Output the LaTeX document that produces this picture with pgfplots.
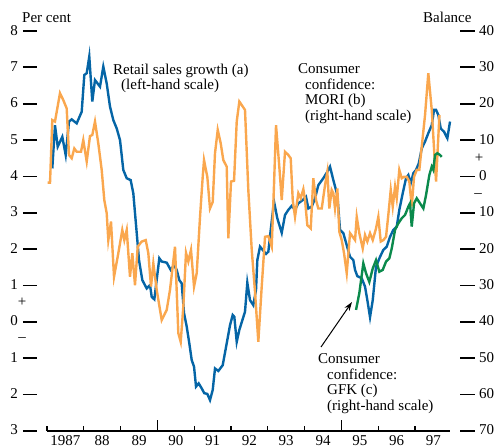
\documentclass[border=0pt]{standalone}
\usepackage{fontspec}
\setmainfont{Liberation Serif}
\usepackage{pgfplots}
\pgfplotsset{compat=1.18}
\usetikzlibrary{arrows.meta}
\definecolor{retail}{HTML}{0565A6}
\definecolor{mori}{HTML}{FAA74E}
\definecolor{gfk}{HTML}{0B8A4C}
% tick labels: number with a detached dash
\newcommand{\ld}[1]{#1\hspace{5pt}\rule[3.2pt]{14pt}{1.7pt}}
\newcommand{\rd}[1]{\rule[3.2pt]{15pt}{1.7pt}\hspace{4pt}#1}

\begin{document}
\begin{tikzpicture}[font=\fontsize{15}{16}\selectfont]
\path[use as bounding box] (0,0) rectangle (499pt,448pt);

% left-hand scale: retail sales growth
\begin{axis}[
  at={(47pt,17pt)}, anchor=south west,
  scale only axis, width=403pt, height=400pt,
  xmin=1987, xmax=1997.95, ymin=-3, ymax=8,
  axis x line*=bottom, axis y line*=left,
  x axis line style={-, line width=1.7pt},
  y axis line style={draw=none},
  ytick={-3,-2,...,8},
  yticklabels={\ld{3},\ld{2},\ld{1},\ld{0},\ld{1},\ld{2},\ld{3},\ld{4},\ld{5},\ld{6},\ld{7},\ld{8}},
  yticklabel style={anchor=base east, inner sep=0pt, xshift=-10pt, yshift=-4pt},
  xtick={1987.5,1988.5,...,1997.5},
  xticklabels={1987,88,89,90,91,92,93,94,95,96,97},
  xticklabel style={anchor=base, inner sep=0pt, yshift=-14.5pt},
  minor xtick={1987,1988,1989,1991,1992,1993,1994,1996,1997},
  extra x ticks={1990,1995}, extra x tick labels={},
  extra x tick style={major tick length=11pt},
  major tick length=0pt, minor tick length=5pt,
  tick align=inside,
  x tick style={line width=1.3pt, black},
  y tick style={draw=none},
  clip=false,
]
\addplot[retail, line width=2.4pt] table {
1987.144 4.22
1987.217 5.41
1987.291 4.82
1987.416 5.09
1987.508 4.59
1987.598 5.51
1987.671 5.57
1987.807 5.46
1987.943 5.78
1988.014 6.79
1988.079 6.84
1988.149 7.30
1988.231 6.06
1988.304 6.65
1988.440 6.47
1988.530 7.02
1988.622 6.56
1988.712 5.92
1988.802 5.55
1988.894 5.32
1988.984 5.00
1989.073 4.18
1989.166 3.95
1989.274 3.90
1989.345 3.54
1989.438 2.44
1989.500 1.70
1989.590 1.15
1989.709 0.92
1989.799 1.01
1989.845 0.69
1989.916 0.62
1990.052 1.75
1990.117 1.66
1990.253 1.63
1990.361 1.43
1990.451 1.56
1990.524 1.43
1990.595 1.15
1990.660 1.06
1990.723 0.24
1990.796 -0.13
1990.867 -0.59
1990.932 -1.05
1990.995 -1.23
1991.049 -1.78
1991.122 -1.69
1991.204 -1.83
1991.274 -1.96
1991.356 -1.98
1991.429 -2.15
1991.503 -1.87
1991.565 -1.28
1991.655 -1.35
1991.774 -1.19
1991.883 -0.59
1991.973 -0.09
1992.046 0.19
1992.090 0.14
1992.155 -0.55
1992.226 -0.22
1992.380 0.28
1992.443 1.08
1992.516 0.60
1992.606 0.46
1992.679 0.88
1992.715 1.70
1992.788 2.07
1992.861 1.98
1992.951 1.87
1993.014 1.93
1993.079 2.53
1993.168 3.31
1993.258 2.85
1993.378 2.45
1993.467 2.94
1993.557 3.08
1993.649 3.19
1993.739 3.08
1993.829 3.26
1993.948 3.35
1994.038 3.44
1994.101 3.12
1994.193 3.17
1994.283 3.40
1994.372 3.76
1994.508 3.95
1994.617 4.13
1994.690 4.27
1994.780 3.90
1994.889 3.49
1994.962 2.53
1995.052 2.44
1995.144 2.11
1995.234 1.79
1995.323 1.70
1995.370 1.43
1995.432 1.26
1995.552 1.20
1995.641 0.97
1995.704 0.60
1995.777 0.13
1995.851 0.60
1995.940 1.52
1996.049 1.79
1996.139 1.98
1996.231 2.07
1996.321 2.34
1996.410 2.53
1996.503 2.62
1996.573 3.08
1996.666 3.54
1996.755 3.95
1996.818 4.04
1996.883 3.81
1996.954 4.09
1997.027 4.18
1997.101 4.36
1997.182 4.77
1997.272 4.96
1997.361 5.19
1997.454 5.41
1997.516 5.83
1997.571 5.83
1997.633 5.69
1997.698 5.32
1997.788 5.23
1997.878 5.05
1997.951 5.51
};
\end{axis}

% right-hand scale: consumer confidence balances
\begin{axis}[
  at={(47pt,17pt)}, anchor=south west,
  scale only axis, width=403pt, height=400pt,
  xmin=1987, xmax=1997.95, ymin=-70, ymax=40,
  axis x line=none, axis y line*=right,
  y axis line style={draw=none},
  ytick={-70,-60,...,40},
  yticklabels={\rd{70},\rd{60},\rd{50},\rd{40},\rd{30},\rd{20},\rd{10},\rd{0},\rd{10},\rd{20},\rd{30},\rd{40}},
  yticklabel style={anchor=base west, inner sep=0pt, xshift=10pt, yshift=-4pt},
  y tick style={draw=none},
  clip=false,
]
\addplot[mori, line width=2.4pt] table {
1987.019 -1.7
1987.082 -1.7
1987.144 15.5
1987.217 15.1
1987.353 22.9
1987.443 21.0
1987.535 18.7
1987.598 5.9
1987.671 5.0
1987.742 7.7
1987.807 6.8
1987.924 6.8
1987.986 10.0
1988.079 4.1
1988.168 11.1
1988.231 11.4
1988.304 15.1
1988.394 9.1
1988.486 1.8
1988.557 -6.5
1988.622 -10.1
1988.666 -17.5
1988.739 -12.4
1988.821 -27.6
1988.938 -21.1
1989.046 -14.7
1989.101 -17.5
1989.166 -14.7
1989.255 -27.6
1989.318 -21.1
1989.391 -29.9
1989.465 -19.3
1989.573 -17.9
1989.682 -17.5
1989.753 -21.1
1989.826 -30.3
1989.889 -23.9
1989.981 -31.2
1990.117 -39.5
1990.253 -36.7
1990.342 -31.2
1990.478 -19.3
1990.568 -43.1
1990.633 -45.5
1990.704 -35.8
1990.777 -21.0
1990.840 -23.4
1990.913 -20.2
1990.995 -30.3
1991.068 -26.6
1991.158 -11.1
1991.231 -0.1
1991.266 4.5
1991.356 -0.1
1991.429 -8.8
1991.503 -7.0
1991.565 6.4
1991.639 12.8
1991.720 9.1
1991.791 4.5
1991.883 2.7
1991.927 -17.0
1992.000 -1.4
1992.082 -1.2
1992.155 15.1
1992.226 20.6
1992.380 18.3
1992.470 -3.7
1992.563 -20.2
1992.652 -31.7
1992.742 -45.5
1992.834 -30.3
1992.924 -16.6
1993.014 -16.4
1993.106 -19.3
1993.168 -2.4
1993.223 14.1
1993.312 2.7
1993.378 -6.5
1993.467 6.8
1993.557 5.9
1993.622 5.0
1993.677 -6.5
1993.739 -11.1
1993.829 -4.6
1993.894 -6.0
1993.965 -3.5
1994.011 -6.5
1994.073 -13.4
1994.166 -14.3
1994.236 -0.5
1994.310 -6.5
1994.372 -8.8
1994.465 -8.8
1994.554 -2.4
1994.617 1.3
1994.671 -8.8
1994.736 -3.7
1994.780 -4.6
1994.826 -8.8
1994.889 -3.3
1994.943 -15.2
1995.008 -17.5
1995.071 -21.1
1995.144 -26.6
1995.234 -15.6
1995.307 -16.6
1995.370 -17.5
1995.416 -11.1
1995.486 -15.6
1995.579 -19.8
1995.641 -16.1
1995.704 -17.9
1995.777 -15.6
1995.851 -17.5
1995.940 -14.3
1996.003 -11.1
1996.068 -17.9
1996.139 -17.5
1996.212 -16.6
1996.274 -10.6
1996.340 -3.7
1996.394 -8.3
1996.457 -2.8
1996.503 -6.0
1996.573 1.8
1996.639 -0.5
1996.701 -0.1
1996.774 -0.1
1996.845 -1.4
1996.910 -8.3
1996.973 -0.1
1997.046 1.8
1997.117 1.8
1997.182 8.2
1997.272 16.9
1997.361 28.4
1997.454 18.3
1997.516 7.7
1997.571 -1.4
1997.663 16.9
};
\addplot[gfk, line width=2.4pt] table {
1995.397 -36.7
1995.486 -32.1
1995.595 -23.9
1995.668 -26.6
1995.758 -29.0
1995.851 -25.3
1995.940 -23.0
1996.030 -26.2
1996.122 -25.7
1996.212 -23.4
1996.302 -22.5
1996.367 -19.8
1996.457 -14.7
1996.546 -12.9
1996.639 -11.5
1996.728 -10.6
1996.818 -8.3
1996.864 -7.4
1996.910 -13.8
1996.973 -7.4
1997.046 -6.0
1997.136 -7.4
1997.226 -8.8
1997.299 -5.1
1997.389 0.4
1997.454 2.7
1997.497 1.8
1997.543 5.9
1997.606 6.4
1997.679 5.9
1997.725 5.4
};
\end{axis}

% labels (picture coordinates, origin bottom left)
\node[anchor=base west, inner sep=0pt] at (22pt,425pt) {Per cent};
\node[anchor=base west, inner sep=0pt] at (423pt,425pt) {Balance};
\node[anchor=base west, inner sep=0pt] at (113pt,373pt) {Retail sales growth (a)};
\node[anchor=base west, inner sep=0pt] at (121pt,358pt) {(left-hand scale)};
\node[anchor=base west, inner sep=0pt] at (298pt,374pt) {Consumer};
\node[anchor=base west, inner sep=0pt] at (305pt,358.5pt) {confidence:};
\node[anchor=base west, inner sep=0pt] at (305pt,343pt) {MORI (b)};
\node[anchor=base west, inner sep=0pt] at (305pt,327.5pt) {(right-hand scale)};
\node[anchor=base west, inner sep=0pt] at (318pt,84pt) {Consumer};
\node[anchor=base west, inner sep=0pt] at (327pt,68.5pt) {confidence:};
\node[anchor=base west, inner sep=0pt] at (327pt,53pt) {GFK (c)};
\node[anchor=base west, inner sep=0pt] at (327pt,37.5pt) {(right-hand scale)};
\draw[line width=1pt, -{Stealth[length=9pt,width=6pt]}] (321pt,101pt) -- (352pt,146pt);
\node at (22pt,146pt) {+};
\node at (22pt,108pt) {–};
\node at (479pt,290pt) {+};
\node at (478pt,252pt) {–};
\end{tikzpicture}
\end{document}
